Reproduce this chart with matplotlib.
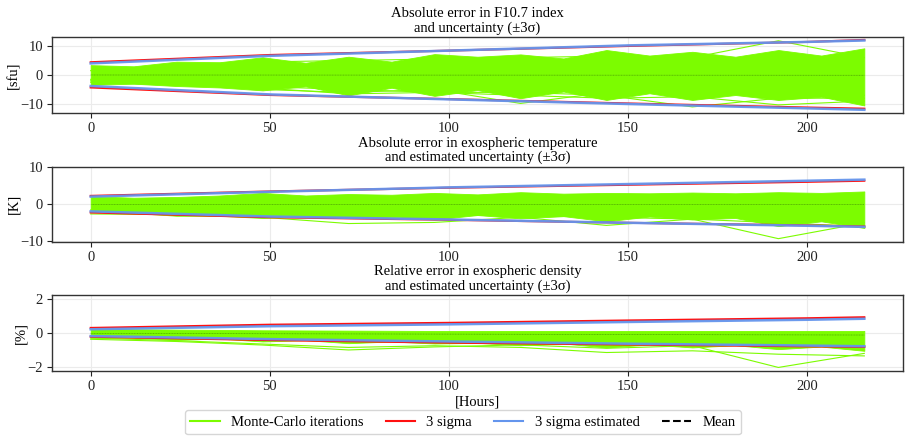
import matplotlib
matplotlib.use("Agg")
import matplotlib.pyplot as plt
from matplotlib.lines import Line2D

plt.rcParams['font.family'] = ['Liberation Serif', 'DejaVu Serif']
plt.rcParams['font.size'] = 10.5

# ---------------- data ----------------
hours_env = [0, 12, 24, 36, 48, 60, 72, 84, 96, 108, 120, 132, 144, 156, 168, 180, 192, 204, 216]
hours_day = [0, 24, 48, 72, 96, 120, 144, 168, 192, 216]
hours_sig = [0, 50, 100, 150, 200, 216]
hours_mean = [0, 216]

# Panel 1: F10.7 [sfu]
env1_up = [3.4, 3.0, 4.6, 4.4, 6.1, 4.2, 6.3, 4.6, 7.2, 6.3, 7.1, 5.7, 8.6, 6.7, 8.0, 6.3, 8.6, 6.7, 9.2]
env1_lo = [-3.4, -3.0, -3.8, -4.3, -5.3, -3.9, -7.0, -4.4, -7.2, -5.2, -8.0, -5.7, -8.6, -6.3, -8.6, -6.9, -8.6, -7.5, -10.5]
mc1_outliers = [
    [1.5, 3.5, 4.5, 5.0, 5.5, 6.0, 6.5, 6.0, 11.8, 6.0],
    [-2.0, -3.0, -5.0, -6.0, -5.0, -9.8, -6.0, -5.0, -6.0, -7.0],
    [-1.5, -3.0, -4.0, -5.0, -6.0, -6.0, -7.0, -11.0, -8.0, -8.0],
    [-2.5, -3.5, -4.5, -6.5, -6.0, -7.0, -8.0, -7.5, -10.3, -9.0],
]
sig1_red_up = [4.4, 6.9, 8.4, 10.0, 11.4, 12.1]
sig1_red_lo = [-4.3, -6.9, -8.3, -9.8, -11.2, -11.6]
sig1_blue_up = [4.0, 6.6, 8.4, 10.2, 11.4, 11.9]
sig1_blue_lo = [-3.8, -6.7, -8.4, -10.0, -11.5, -12.0]
mean1 = [0.0, -0.1]

# Panel 2: exospheric temperature [K]
env2_up = [2.2, 1.8, 2.0, 2.4, 3.1, 2.4, 2.8, 2.6, 3.1, 2.7, 3.3, 2.9, 3.1, 3.0, 3.2, 3.0, 3.3, 3.1, 3.5]
env2_lo = [-1.9, -2.3, -3.1, -3.1, -3.7, -3.1, -3.6, -3.4, -4.1, -2.9, -3.8, -3.2, -4.6, -3.3, -4.1, -3.7, -5.9, -4.6, -6.4]
mc2_outliers = [
    [-1.5, -2.0, -3.0, -2.5, -3.0, -3.0, -3.5, -4.0, -9.3, -5.0],
    [-2.6, -2.8, -3.5, -5.2, -4.9, -3.5, -5.7, -4.0, -5.0, -6.0],
]
sig2_red_up = [2.3, 3.5, 4.5, 5.3, 6.1, 6.4]
sig2_red_lo = [-2.2, -3.5, -4.2, -5.0, -5.7, -6.0]
sig2_blue_up = [2.1, 3.4, 4.6, 5.5, 6.4, 6.7]
sig2_blue_lo = [-1.9, -3.3, -4.1, -5.0, -5.8, -6.1]
mean2 = [0.0, 0.0]

# Panel 3: exospheric density [%]
env3_up = [0.25, 0.22, 0.20, 0.18, 0.16, 0.15, 0.14, 0.13, 0.12, 0.12, 0.12, 0.12, 0.12, 0.12, 0.12, 0.12, 0.12, 0.12, 0.12]
env3_lo = [-0.27, -0.28, -0.40, -0.33, -0.50, -0.42, -0.60, -0.50, -0.62, -0.58, -0.72, -0.62, -0.85, -0.68, -0.85, -0.72, -0.95, -0.80, -1.05]
mc3_outliers = [
    [-0.37, -0.50, -0.71, -1.00, -0.82, -0.70, -0.90, -0.75, -2.03, -1.20],
    [-0.30, -0.45, -0.65, -0.85, -0.75, -0.85, -1.15, -1.05, -1.25, -1.35],
]
sig3_red_up = [0.30, 0.49, 0.60, 0.74, 0.87, 0.93]
sig3_red_lo = [-0.22, -0.42, -0.57, -0.68, -0.79, -0.82]
sig3_blue_up = [0.22, 0.40, 0.51, 0.65, 0.78, 0.84]
sig3_blue_lo = [-0.18, -0.36, -0.50, -0.63, -0.74, -0.78]
mean3 = [-0.02, -0.12]

titles = ["Absolute error in F10.7 index\nand uncertainty (±3σ)",
          "Absolute error in exospheric temperature\nand estimated uncertainty (±3σ)",
          "Relative error in exospheric density\nand estimated uncertainty (±3σ)"]
ylabels = ["[sfu]", "[K]", "[%]"]
ylabel_x = [-0.0376, -0.0376, -0.0294]
xticks = [0, 50, 100, 150, 200]
yticks = [[-10, 0, 10], [-10, 0, 10], [-2, 0, 2]]
ylims = [(-13.1, 13.1), (-10.2, 10.2), (-2.24, 2.24)]
legend_labels = ["Monte-Carlo iterations", "3 sigma", "3 sigma estimated", "Mean"]

GREEN = "#7CFC00"
RED = "#FF1010"
BLUE = "#6495ED"

panels = [
    (env1_up, env1_lo, mc1_outliers, sig1_red_up, sig1_red_lo, sig1_blue_up, sig1_blue_lo, mean1),
    (env2_up, env2_lo, mc2_outliers, sig2_red_up, sig2_red_lo, sig2_blue_up, sig2_blue_lo, mean2),
    (env3_up, env3_lo, mc3_outliers, sig3_red_up, sig3_red_lo, sig3_blue_up, sig3_blue_lo, mean3),
]

# ---------------- figure ----------------
fig = plt.figure(figsize=(9.06, 4.44), dpi=100)
rects = [(0.0574, 0.7455, 0.9393, 0.1712),
         (0.0574, 0.4550, 0.9393, 0.1695),
         (0.0574, 0.1644, 0.9393, 0.1712)]

for i, (rect, p) in enumerate(zip(rects, panels)):
    up, lo, outs, ru, rl, bu, bl, mn = p
    ax = fig.add_axes(rect)
    ax.grid(True, color="#ebebeb", lw=0.8, zorder=0)
    ax.set_axisbelow(True)
    ax.fill_between(hours_env, lo, up, color=GREEN, lw=0.6, edgecolor=GREEN, zorder=2)
    for o in outs:
        ax.plot(hours_day, o, color=GREEN, lw=0.8, zorder=2)
    ax.plot(hours_mean, mn, color="#1a4d00", ls=(0, (1.5, 0.8)), lw=0.5, alpha=0.5, zorder=3)
    ax.plot(hours_sig, ru, color=RED, lw=1.5, zorder=4)
    ax.plot(hours_sig, rl, color=RED, lw=1.5, zorder=4)
    ax.plot(hours_sig, bu, color=BLUE, lw=1.8, alpha=0.95, zorder=5)
    ax.plot(hours_sig, bl, color=BLUE, lw=1.8, alpha=0.95, zorder=5)
    ax.set_xlim(-10.8, 226.8)
    ax.set_ylim(*ylims[i])
    ax.set_xticks(xticks)
    ax.set_yticks(yticks[i])
    ax.set_title(titles[i], fontsize=10.5, pad=4, linespacing=1.1)
    ax.set_ylabel(ylabels[i])
    ax.yaxis.set_label_coords(ylabel_x[i], 0.5)
    for s in ax.spines.values():
        s.set_color("#333333")
        s.set_linewidth(1.0)
    ax.tick_params(length=3.5, width=0.8, colors="#222222", pad=3)
    if i == 2:
        ax.set_xlabel("[Hours]", labelpad=2)

handles = [Line2D([], [], color=GREEN, lw=1.5),
           Line2D([], [], color=RED, lw=1.5),
           Line2D([], [], color=BLUE, lw=1.5),
           Line2D([], [], color="black", lw=1.5, ls="--")]
fig.legend(handles, legend_labels, loc="lower center", bbox_to_anchor=(0.511, 0.005),
           ncol=4, frameon=True, fontsize=10.5, columnspacing=1.5, handlelength=2.0,
           edgecolor="#cccccc")

fig.savefig("out.png", dpi=100)
